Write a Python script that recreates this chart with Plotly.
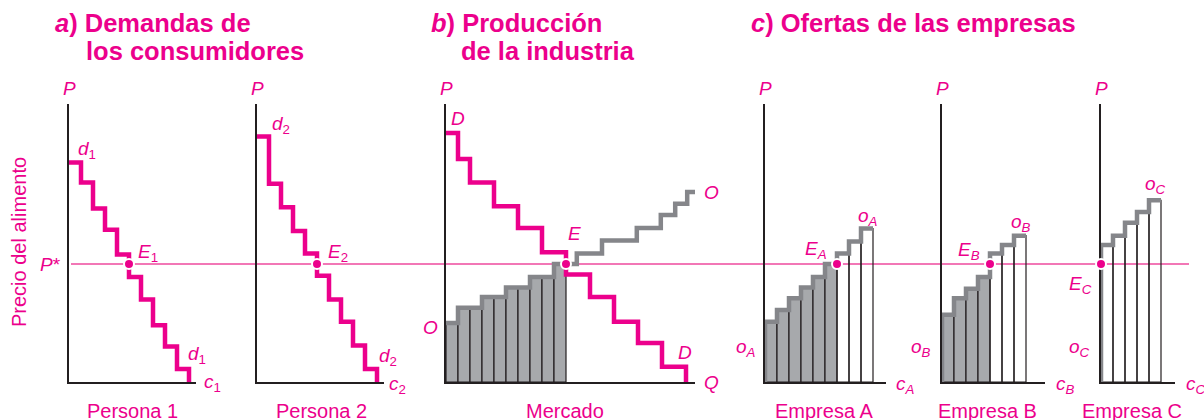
import plotly.graph_objects as go

W, H = 1204, 420
MAGENTA = "#ec008c"
PSTAR_COL = "#ee4a9e"
GRAY_LINE = "#85868a"
GRAY_FILL = "#a7a9ac"
INK = "#231f20"
FONT = "Liberation Sans, Arial, sans-serif"

# ---- data (price units: P* = 10; quantity units: one step = 1) ----
P_STAR = 10.0

# individual demands, price for each unit 0..9
d1_prices = [18.6, 16.9, 14.7, 12.9, 10.8, 8.9, 7.0, 4.8, 3.0, 1.1]
d2_prices = [20.8, 16.8, 14.8, 12.8, 10.9, 9.0, 7.0, 5.1, 3.1, 1.1]
q1_star, q2_star = 5, 5

# market demand: step edges and prices
D_q = [0, 1, 2, 4, 6, 8, 10, 12, 14, 16, 18, 20]
D_p = [21.1, 18.9, 16.9, 14.9, 13.05, 11.0, 9.1, 7.2, 5.1, 3.3, 1.3]
# market supply: step edges and prices
O_q = [0, 1, 3, 5, 7, 9, 10.9, 13, 15.9, 17.9, 19.1, 20.1, 20.75]
O_p = [5.0, 6.3, 7.2, 8.0, 8.9, 10.0, 10.9, 12.0, 13.05, 14.15, 15.1, 16.1]
mkt_units = [5.0, 6.3, 6.3, 7.2, 7.2, 8.0, 8.0, 8.9, 8.9, 10.0]
Q_star = 10

# firm supplies, cost of each unit
oA = [5.1, 6.1, 7.1, 8.0, 8.9, 10.0, 10.9, 11.9, 13.0]
oB = [5.7, 7.1, 7.9, 8.9, 10.9, 11.6, 12.4]
oC = [11.6, 12.4, 13.5, 14.4, 15.4]
qA_star, qB_star, qC_star = 6, 4, 0

# ---- layout geometry (pixels) ----
panels = [(69, 196), (257, 384), (446, 695), (765, 886), (942, 1045), (1101, 1175)]
PX_Q = 12.0
PX_P = 11.8
Y_TOP, Y_BASE = 104, 382


def px(x):
    return x / W


def py(y):
    return 1 - y / H


fig = go.Figure()
layout = {}
for k, (x0, x1) in enumerate(panels, start=1):
    s = "" if k == 1 else str(k)
    layout["xaxis" + s] = dict(
        domain=[px(x0), px(x1)], range=[0, (x1 - x0) / PX_Q], anchor="y" + s,
        showline=True, linecolor=INK, linewidth=1.5, showgrid=False,
        zeroline=False, showticklabels=False, ticks="", fixedrange=True,
        layer="below traces")
    layout["yaxis" + s] = dict(
        domain=[py(Y_BASE), py(Y_TOP)], range=[0, (Y_BASE - Y_TOP) / PX_P],
        anchor="x" + s, showline=True, linecolor=INK, linewidth=1.5,
        showgrid=False, zeroline=False, showticklabels=False, ticks="",
        fixedrange=True, layer="below traces")


def ax(k):
    s = "" if k == 1 else str(k)
    return "x" + s, "y" + s


def demand(k, prices):
    xa, ya = ax(k)
    fig.add_trace(go.Scatter(
        x=list(range(len(prices) + 1)), y=prices + [0], mode="lines",
        line=dict(color=MAGENTA, width=4.5, shape="hv"), xaxis=xa, yaxis=ya))


def units(k, costs, n_sold):
    # unsold units are left see-through so the P* line shows across them
    xa, ya = ax(k)
    fig.add_trace(go.Bar(
        x=[i + 0.5 for i in range(len(costs))], y=costs, width=1,
        marker=dict(color=[GRAY_FILL if i < n_sold else "rgba(0,0,0,0)"
                           for i in range(len(costs))],
                    line=dict(color=INK, width=1.2)),
        xaxis=xa, yaxis=ya))


def firm_supply(k, costs):
    xa, ya = ax(k)
    fig.add_trace(go.Scatter(
        x=[0] + list(range(len(costs) + 1)), y=[0] + costs + [costs[-1]],
        mode="lines", line=dict(color=GRAY_LINE, width=4.5, shape="hv"),
        xaxis=xa, yaxis=ya))


def eq_dot(k, q):
    xa, ya = ax(k)
    fig.add_trace(go.Scatter(
        x=[q], y=[P_STAR], mode="markers", cliponaxis=False,
        marker=dict(color=MAGENTA, size=10, line=dict(color="white", width=2)),
        xaxis=xa, yaxis=ya))


demand(1, d1_prices)
eq_dot(1, q1_star)
demand(2, d2_prices)
eq_dot(2, q2_star)

units(3, mkt_units, len(mkt_units))
fig.add_trace(go.Scatter(x=O_q, y=O_p + [O_p[-1]], mode="lines",
                         line=dict(color=GRAY_LINE, width=4.5, shape="hv"),
                         xaxis="x3", yaxis="y3"))
fig.add_trace(go.Scatter(x=D_q, y=D_p + [0], mode="lines",
                         line=dict(color=MAGENTA, width=4.5, shape="hv"),
                         xaxis="x3", yaxis="y3"))
eq_dot(3, Q_star)

for k, costs, n in [(4, oA, qA_star), (5, oB, qB_star), (6, oC, qC_star)]:
    units(k, costs, n)
    firm_supply(k, costs)
    eq_dot(k, n)

# P* line across every panel, behind the marks
shapes = [dict(type="line", xref="paper", yref="y", x0=px(71), x1=px(1189),
               y0=P_STAR, y1=P_STAR, line=dict(color=PSTAR_COL, width=1.3),
               layer="below")]

ann = []


def lab(text, x, y, xanchor="left", size=19, angle=0):
    ann.append(dict(text=text, x=px(x), y=py(y), xref="paper", yref="paper",
                    xanchor=xanchor, yanchor="middle", showarrow=False,
                    textangle=angle, font=dict(family=FONT, size=size, color=MAGENTA)))


# titles
lab("<b><i>a</i>) Demandas de</b>", 53, 23, size=25.5)
lab("<b>los consumidores</b>", 84, 51, size=25.5)
lab("<b><i>b</i>) Producción</b>", 429, 23, size=25.5)
lab("<b>de la industria</b>", 459, 51, size=25.5)
lab("<b><i>c</i>) Ofertas de las empresas</b>", 749, 23, size=25.5)

# axis tops and ends
for x0, _ in panels:
    lab("<i>P</i>", x0, 88, xanchor="center")
lab("<i>P</i>*", 63, 264, xanchor="right")
lab("Precio del alimento", 19, 242, xanchor="center", size=20, angle=-90)

for text, x, y in [
    ("<i>d</i><sub>1</sub>", 76, 150), ("<i>E</i><sub>1</sub>", 136, 253),
    ("<i>d</i><sub>1</sub>", 186, 355), ("<i>c</i><sub>1</sub>", 202, 383),
    ("<i>d</i><sub>2</sub>", 270, 125), ("<i>E</i><sub>2</sub>", 326, 253),
    ("<i>d</i><sub>2</sub>", 377, 357), ("<i>c</i><sub>2</sub>", 387, 385),
    ("<i>D</i>", 449, 118), ("<i>E</i>", 566, 233), ("<i>O</i>", 702, 193),
    ("<i>O</i>", 421, 327), ("<i>D</i>", 676, 352), ("<i>Q</i>", 702, 382),
    ("<i>o<sub>A</sub></i>", 856, 217), ("<i>E<sub>A</sub></i>", 803, 250),
    ("<i>o<sub>A</sub></i>", 734, 348), ("<i>c<sub>A</sub></i>", 894, 385),
    ("<i>o<sub>B</sub></i>", 1009, 223), ("<i>E<sub>B</sub></i>", 956, 251),
    ("<i>o<sub>B</sub></i>", 909, 348), ("<i>c<sub>B</sub></i>", 1054, 385),
    ("<i>o<sub>C</sub></i>", 1143, 185), ("<i>E<sub>C</sub></i>", 1067, 285),
    ("<i>o<sub>C</sub></i>", 1067, 348), ("<i>c<sub>C</sub></i>", 1184, 385),
]:
    lab(text, x, y)

for text, x in [("Persona 1", 132), ("Persona 2", 322), ("Mercado", 565),
                ("Empresa A", 824), ("Empresa B", 987), ("Empresa C", 1132)]:
    lab(text, x, 411, xanchor="center", size=20)

fig.update_layout(
    width=W, height=H, margin=dict(l=0, r=0, t=0, b=0),
    paper_bgcolor="white", plot_bgcolor="rgba(0,0,0,0)", showlegend=False,
    hovermode=False, shapes=shapes, annotations=ann, **layout)

# page body has a default 8px margin; drop it so the figure sits at 0,0
fig.write_html("out.html", config={"displayModeBar": False},
               post_script="document.body.style.margin='0';document.body.style.overflow='hidden';")
